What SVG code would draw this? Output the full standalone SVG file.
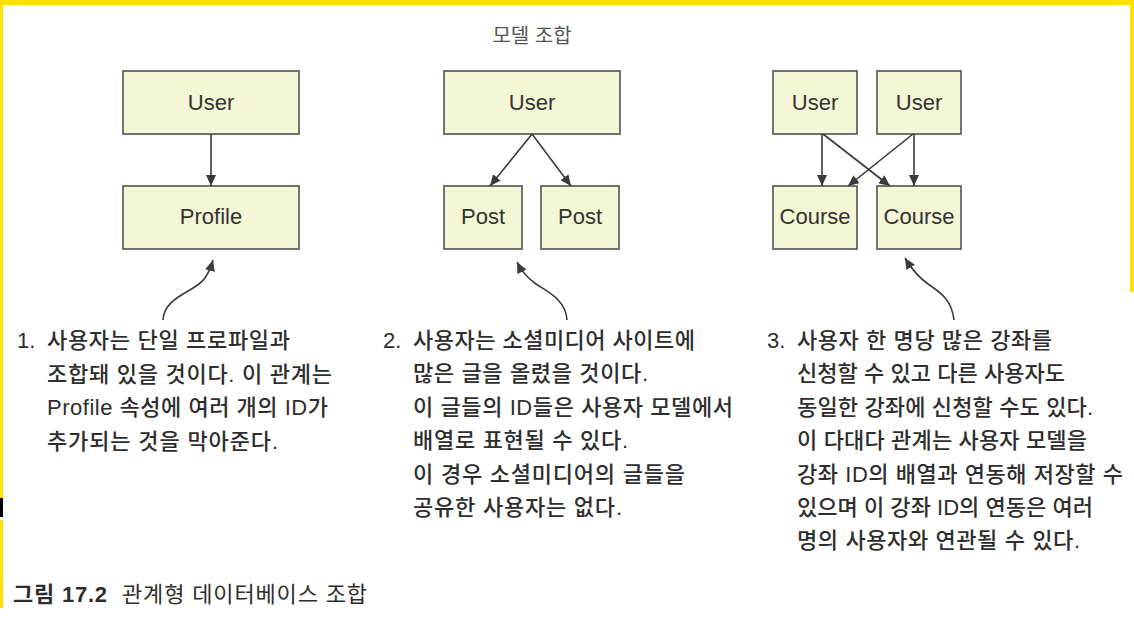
<svg xmlns="http://www.w3.org/2000/svg" width="1134" height="621" viewBox="0 0 1134 621">
<style>
.node rect{fill:#f4f7d5;stroke:#505050;stroke-width:1.6}
.lbl{font-family:"Liberation Sans","Noto Sans CJK KR",sans-serif;font-size:22px;fill:#333;text-anchor:middle}
.body{font-family:"Liberation Sans","Noto Sans CJK KR",sans-serif;font-size:22px;fill:#2e2e2e;font-weight:500}
.conn line,.conn path{stroke:#3a3a3a;stroke-width:1.6;fill:none;marker-end:url(#ah)}
</style>
<defs>
<marker id="ah" markerUnits="userSpaceOnUse" markerWidth="12" markerHeight="10" refX="11" refY="5" orient="auto">
<path d="M0,0 L11,5 L0,10 z" fill="#3a3a3a"/>
</marker>
</defs>
<rect width="1134" height="621" fill="#fff"/>
<rect x="0" y="0" width="1134" height="5" fill="#ffe000"/>
<rect x="0" y="0" width="3" height="498" fill="#ffe000"/>
<rect x="0" y="498" width="3" height="19" fill="#000"/>
<rect x="0" y="520" width="3" height="88" fill="#ffe000"/>
<rect x="1130" y="0" width="4" height="292" fill="#ffe000"/>

<text x="532" y="43" class="body" style="font-size:20px;fill:#555;font-weight:400" text-anchor="middle">모델 조합</text>

<g id="n-user1" class="node"><rect x="123" y="71" width="176" height="63"/><text class="lbl" x="211" y="110">User</text></g>
<g id="n-profile" class="node"><rect x="123" y="186" width="176" height="63"/><text class="lbl" x="211" y="224">Profile</text></g>
<g id="n-user2" class="node"><rect x="444" y="71" width="176" height="63"/><text class="lbl" x="532" y="110">User</text></g>
<g id="n-post1" class="node"><rect x="444" y="186" width="78" height="63"/><text class="lbl" x="483" y="224">Post</text></g>
<g id="n-post2" class="node"><rect x="541" y="186" width="78" height="63"/><text class="lbl" x="580" y="224">Post</text></g>
<g id="n-user3a" class="node"><rect x="773" y="71" width="84" height="63"/><text class="lbl" x="815" y="110">User</text></g>
<g id="n-user3b" class="node"><rect x="877" y="71" width="84" height="63"/><text class="lbl" x="919" y="110">User</text></g>
<g id="n-course1" class="node"><rect x="773" y="186" width="84" height="63"/><text class="lbl" x="815" y="224">Course</text></g>
<g id="n-course2" class="node"><rect x="877" y="186" width="84" height="63"/><text class="lbl" x="919" y="224">Course</text></g>

<g id="connectors" class="conn">
<line x1="211" y1="134" x2="211" y2="186"/>
<line x1="532" y1="134" x2="490" y2="186"/>
<line x1="532" y1="134" x2="571" y2="186"/>
<line x1="822" y1="134" x2="822" y2="186"/>
<line x1="823" y1="134" x2="890" y2="186"/>
<line x1="914" y1="134" x2="914" y2="186"/>
<line x1="913" y1="134" x2="848" y2="186"/>
<path d="M163,320 C164,296 196,292 205,278 C209,272 211,267 213,260"/>
<path d="M567,320 C566,300 548,292 536,284 C526,277 521,270 517,262"/>
<path d="M954,320 C952,300 940,292 928,284 C918,277 911,268 905,258"/>
</g>

<g id="text1" class="body">
<text x="17" y="348">1.</text>
<text x="47" y="348" textLength="243">사용자는 단일 프로파일과</text>
<text x="47" y="381.5" textLength="285">조합돼 있을 것이다. 이 관계는</text>
<text x="47" y="415" textLength="281">Profile 속성에 여러 개의 ID가</text>
<text x="47" y="448.5" textLength="231">추가되는 것을 막아준다.</text>
</g>
<g id="text2" class="body">
<text x="383" y="348">2.</text>
<text x="413" y="348" textLength="282">사용자는 소셜미디어 사이트에</text>
<text x="413" y="381.4" textLength="235">많은 글을 올렸을 것이다.</text>
<text x="413" y="414.8" textLength="320">이 글들의 ID들은 사용자 모델에서</text>
<text x="413" y="448.2" textLength="215">배열로 표현될 수 있다.</text>
<text x="413" y="481.6" textLength="272">이 경우 소셜미디어의 글들을</text>
<text x="413" y="515" textLength="209">공유한 사용자는 없다.</text>
</g>
<g id="text3" class="body">
<text x="767" y="348">3.</text>
<text x="797" y="348" textLength="255">사용자 한 명당 많은 강좌를</text>
<text x="797" y="381.4" textLength="268">신청할 수 있고 다른 사용자도</text>
<text x="797" y="414.8" textLength="296">동일한 강좌에 신청할 수도 있다.</text>
<text x="797" y="448.2" textLength="290">이 다대다 관계는 사용자 모델을</text>
<text x="797" y="481.6" textLength="326">강좌 ID의 배열과 연동해 저장할 수</text>
<text x="797" y="515" textLength="296">있으며 이 강좌 ID의 연동은 여러</text>
<text x="797" y="548.4" textLength="283">명의 사용자와 연관될 수 있다.</text>
</g>

<g id="caption" class="body">
<text x="13" y="602" font-weight="bold" textLength="94">그림 17.2</text>
<text x="122" y="602" textLength="245" font-weight="400">관계형 데이터베이스 조합</text>
</g>
</svg>
